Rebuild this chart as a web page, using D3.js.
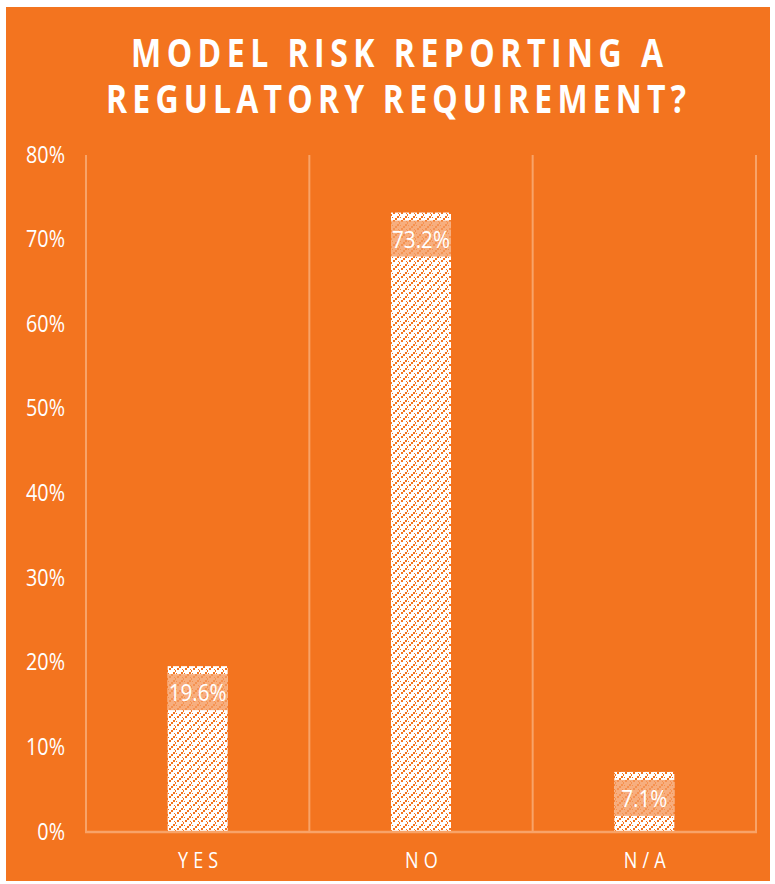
<!DOCTYPE html>
<html>
<head>
<meta charset="utf-8">
<script src="https://cdn.jsdelivr.net/npm/d3@7"></script>
<style>
  html, body { margin: 0; padding: 0; background: #ffffff; }
  svg { display: block; }
</style>
</head>
<body>
<script>
const categories = ["YES", "NO", "N/A"];
const values = [0.196, 0.732, 0.071];
const valueLabels = ["19.6%", "73.2%", "7.1%"];
const yTicks = [0, 0.1, 0.2, 0.3, 0.4, 0.5, 0.6, 0.7, 0.8];
const titleLines = ["MODEL RISK REPORTING A", "REGULATORY REQUIREMENT?"];

const W = 775, H = 884;
const ORANGE = "#F3741F";
const GRID = "#F8A368";
const FONT = "'Open Sans', 'Liberation Sans', sans-serif";

const svg = d3.select("body").append("svg").attr("width", W).attr("height", H);

const defs = svg.append("defs");
const pat = defs.append("pattern")
  .attr("id", "dashUp").attr("patternUnits", "userSpaceOnUse")
  .attr("width", 8).attr("height", 8);
pat.append("rect").attr("width", 8).attr("height", 8).attr("fill", "#ffffff");
[[5,0],[3,2],[1,4],[7,6]].forEach(([px,py]) => {
  pat.append("rect").attr("x", px).attr("y", py).attr("width", 2).attr("height", 2).attr("fill", ORANGE);
});
[[0,1],[6,5]].forEach(([px,py]) => {
  pat.append("rect").attr("x", px).attr("y", py).attr("width", 1).attr("height", 1).attr("fill", ORANGE);
});

// background
svg.append("rect").attr("x", 6).attr("y", 7).attr("width", 764).attr("height", 874).attr("fill", ORANGE);

// title (condensed look via horizontal scale), one text element with two lines
const titleSpec = [{y: 67, x0: 131, x1: 663}, {y: 113, x0: 106, x1: 686}];
const tsx = 0.8;
const titleText = svg.append("text")
  .attr("transform", `scale(${tsx},1)`)
  .attr("fill", "#ffffff")
  .attr("font-family", FONT)
  .attr("font-weight", 700)
  .attr("font-size", 40);
titleLines.forEach((t, i) => {
  titleText.append("tspan")
    .attr("x", titleSpec[i].x0 / tsx).attr("y", titleSpec[i].y)
    .attr("textLength", (titleSpec[i].x1 - titleSpec[i].x0) / tsx)
    .attr("lengthAdjust", "spacing")
    .text(t);
});

const pLeft = 86, pRight = 756, pTop = 155, pBottom = 832;
const x = d3.scaleBand().domain(categories).range([pLeft, pRight]).paddingInner(0).paddingOuter(0);
const y = d3.scaleLinear().domain([0, 0.8]).range([pBottom, pTop]);

// vertical gridlines at band edges
const edges = categories.map(c => x(c)).concat([pRight]);
svg.append("g").selectAll("line").data(edges).join("line")
  .attr("x1", d => d).attr("x2", d => d)
  .attr("y1", pTop).attr("y2", pBottom)
  .attr("stroke", GRID).attr("stroke-width", 2);

// y tick labels
svg.append("g").selectAll("text").data(yTicks).join("text")
  .attr("transform", d => `translate(65,${y(d) + 7.5}) scale(0.86,1)`)
  .attr("text-anchor", "end")
  .attr("fill", "#ffffff")
  .attr("font-family", FONT)
  .attr("font-size", 23)
  .text(d => d3.format(".0%")(d));

// bars
const barW = 60;
const barX = c => x(c) + x.bandwidth() / 2 - barW / 2;
svg.append("g").selectAll("rect").data(values).join("rect")
  .attr("x", (d, i) => barX(categories[i]))
  .attr("y", d => y(d))
  .attr("width", barW)
  .attr("height", d => pBottom - y(d))
  .attr("fill", "url(#dashUp)");

// baseline
svg.append("line").attr("x1", pLeft - 1).attr("x2", pRight + 1)
  .attr("y1", pBottom).attr("y2", pBottom)
  .attr("stroke", GRID).attr("stroke-width", 2.5);

// data labels
const lab = svg.append("g");
values.forEach((v, i) => {
  const bx = barX(categories[i]);
  const by = y(v) + 8;
  lab.append("rect").attr("x", bx).attr("y", by).attr("width", barW).attr("height", 36)
    .attr("fill", "#F59A5E").attr("opacity", 0.8);
  lab.append("text")
    .attr("transform", `translate(${bx + barW / 2},${by + 27}) scale(0.86,1)`)
    .attr("text-anchor", "middle")
    .attr("fill", "#ffffff")
    .attr("font-family", FONT)
    .attr("font-size", 24)
    .text(valueLabels[i]);
});

// x labels
svg.append("g").selectAll("text").data(categories).join("text")
  .attr("transform", d => `translate(${x(d) + x.bandwidth() / 2 + 3},868) scale(0.86,1)`)
  .attr("text-anchor", "middle")
  .attr("fill", "#ffffff")
  .attr("font-family", FONT)
  .attr("font-size", 21)
  .attr("letter-spacing", 6)
  .text(d => d);
</script>
</body>
</html>
